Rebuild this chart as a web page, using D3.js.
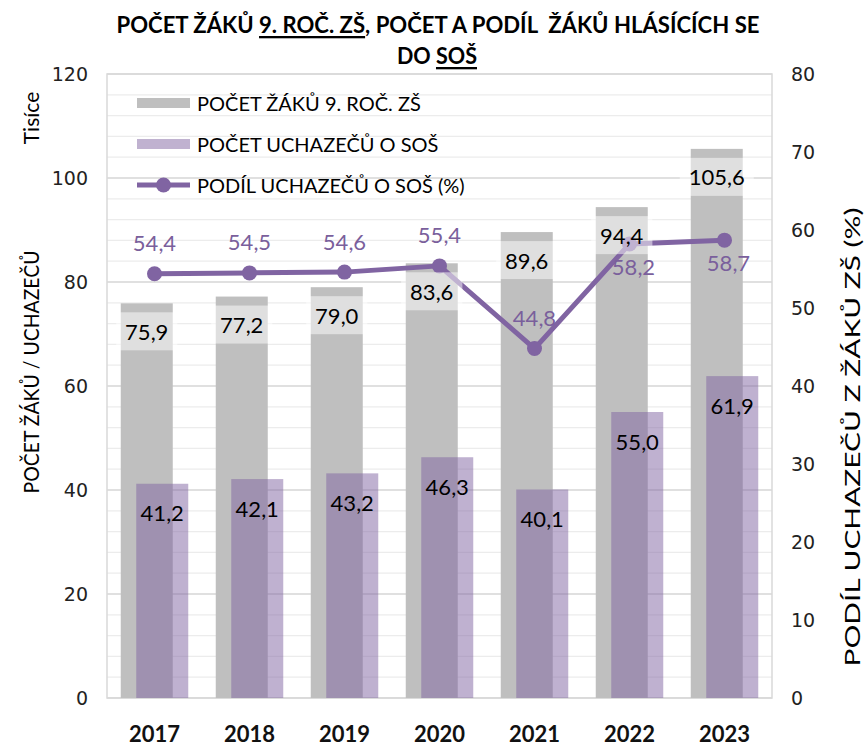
<!DOCTYPE html>
<html>
<head>
<meta charset="utf-8">
<script src="https://cdn.jsdelivr.net/npm/d3@7"></script>
<style>
  body { margin: 0; background: #fff; }
  text { font-family: Lato, "Open Sans", sans-serif; }
</style>
</head>
<body>
<svg id="chart" width="865" height="747"></svg>
<script>
// data (thousands of pupils / %)
const years = ["2017", "2018", "2019", "2020", "2021", "2022", "2023"];
const pupils = [75.9, 77.2, 79.0, 83.6, 89.6, 94.4, 105.6];
const applicants = [41.2, 42.1, 43.2, 46.3, 40.1, 55.0, 61.9];
const share = [54.4, 54.5, 54.6, 55.4, 44.8, 58.2, 58.7];
const leftTicks = [0, 20, 40, 60, 80, 100, 120];
const rightTicks = [0, 10, 20, 30, 40, 50, 60, 70, 80];
const shareLabelSide = ["above", "above", "above", "above", "above", "below", "below"];

const purple = "#8064a2";
const fmt = v => v.toFixed(1).replace(".", ",");

const svg = d3.select("#chart");
const plot = {left: 107, right: 772, top: 74, bottom: 698};

const x = d3.scaleBand().domain(years).range([plot.left, plot.right]);
const yL = d3.scaleLinear().domain([0, 120]).range([plot.bottom, plot.top]);
const yR = d3.scaleLinear().domain([0, 80]).range([plot.bottom, plot.top]);
const barW = 52, shift = 7.75;
const cx = d => x(d) + x.bandwidth() / 2;

// grid
const grid = svg.append("g");
grid.selectAll("line.minor").data(d3.range(0, 121, 4).filter(v => v % 20 != 0)).join("line")
  .attr("x1", plot.left).attr("x2", plot.right)
  .attr("y1", d => yL(d)).attr("y2", d => yL(d))
  .attr("stroke", "#ececec").attr("stroke-width", 1.3);
grid.selectAll("line.major").data(leftTicks).join("line")
  .attr("x1", plot.left).attr("x2", plot.right)
  .attr("y1", d => yL(d)).attr("y2", d => yL(d))
  .attr("stroke", "#d6d6d6").attr("stroke-width", 1.3);
svg.append("rect").attr("x", plot.left).attr("y", plot.top)
  .attr("width", plot.right - plot.left).attr("height", plot.bottom - plot.top)
  .attr("fill", "none").attr("stroke", "#d9d9d9").attr("stroke-width", 1.5);

// bars
svg.append("g").selectAll("rect").data(years).join("rect")
  .attr("x", (d) => cx(d) - shift - barW / 2).attr("width", barW)
  .attr("y", (d, i) => yL(pupils[i])).attr("height", (d, i) => yL(0) - yL(pupils[i]))
  .attr("fill", "#bfbfbf");
svg.append("g").selectAll("rect").data(years).join("rect")
  .attr("x", (d) => cx(d) + shift - barW / 2).attr("width", barW)
  .attr("y", (d, i) => yL(applicants[i])).attr("height", (d, i) => yL(0) - yL(applicants[i]))
  .attr("fill", purple).attr("fill-opacity", 0.5);

svg.append("g").selectAll("text").data(years).join("text")
  .attr("x", d => cx(d) + shift).attr("y", (d, i) => yL(applicants[i]) + 29)
  .attr("text-anchor", "middle").attr("dominant-baseline", "central")
  .attr("font-size", 22).attr("fill", "#000")
  .text((d, i) => fmt(applicants[i]));

// share line
const line = d3.line().x((d, i) => cx(years[i])).y(d => yR(d));
svg.append("path").datum(share).attr("d", line)
  .attr("fill", "none").attr("stroke", purple).attr("stroke-width", 5).attr("stroke-linejoin", "round");
svg.append("g").selectAll("circle").data(share).join("circle")
  .attr("cx", (d, i) => cx(years[i])).attr("cy", d => yR(d)).attr("r", 7.5)
  .attr("fill", purple);
svg.append("g").selectAll("text").data(share).join("text")
  .attr("x", (d, i) => cx(years[i]) + (shareLabelSide[i] == "below" ? 4 : 0))
  .attr("y", (d, i) => yR(d) + (shareLabelSide[i] == "below" ? 22 : -31))
  .attr("text-anchor", "middle").attr("dominant-baseline", "central")
  .attr("font-size", 22).attr("fill", "#7a5f9c")
  .text(d => fmt(d));

// pupil labels with half transparent box
const pl = svg.append("g").selectAll("g").data(years).join("g")
  .attr("transform", (d, i) => `translate(${cx(d) - shift},${yL(pupils[i]) + 28})`);
pl.append("text")
  .attr("text-anchor", "middle").attr("dominant-baseline", "central")
  .attr("font-size", 22).attr("fill", "#000")
  .text((d, i) => fmt(pupils[i]));
pl.each(function() {
  const g = d3.select(this);
  const w = g.select("text").node().getComputedTextLength();
  g.insert("rect", "text").attr("x", -w / 2 - 9).attr("y", -19).attr("width", w + 18).attr("height", 38)
    .attr("fill", "#fff").attr("fill-opacity", 0.5);
});

// axes labels
svg.append("g").selectAll("text").data(leftTicks).join("text")
  .attr("x", 88).attr("y", d => yL(d)).attr("text-anchor", "end").attr("dominant-baseline", "central")
  .style("font-family", "'DejaVu Sans', Verdana, sans-serif").attr("font-size", 19).attr("fill", "#222")
  .text(d => d);
svg.append("g").selectAll("text").data(rightTicks).join("text")
  .attr("x", 791).attr("y", d => yR(d)).attr("text-anchor", "start").attr("dominant-baseline", "central")
  .style("font-family", "'DejaVu Sans', Verdana, sans-serif").attr("font-size", 19).attr("fill", "#222")
  .text(d => d);
svg.append("g").selectAll("text").data(years).join("text")
  .attr("x", d => cx(d)).attr("y", 733).attr("text-anchor", "middle").attr("dominant-baseline", "central")
  .attr("font-size", 22).attr("font-weight", "bold").attr("fill", "#111")
  .text(d => d);

svg.append("text").attr("transform", "translate(30,118) rotate(-90)")
  .attr("text-anchor", "middle").attr("dominant-baseline", "central")
  .attr("font-size", 21).text("Tisíce");
svg.append("text").attr("transform", "translate(30,372) rotate(-90)")
  .attr("text-anchor", "middle").attr("dominant-baseline", "central")
  .attr("font-size", 21).attr("textLength", 243).attr("lengthAdjust", "spacingAndGlyphs")
  .text("POČET ŽÁKŮ / UCHAZEČŮ");
svg.append("text").attr("transform", "translate(851,437) rotate(-90)")
  .attr("text-anchor", "middle").attr("dominant-baseline", "central")
  .attr("font-size", 22).attr("textLength", 459).attr("lengthAdjust", "spacingAndGlyphs")
  .text("PODÍL UCHAZEČŮ Z ŽÁKŮ ZŠ (%)");

// title
const t1 = svg.append("text").attr("x", 438).attr("y", 24).attr("text-anchor", "middle")
  .attr("dominant-baseline", "central").attr("font-size", 23).attr("font-weight", "bold")
  .attr("textLength", 643).attr("lengthAdjust", "spacingAndGlyphs").attr("xml:space", "preserve");
t1.append("tspan").text("POČET ŽÁKŮ ");
t1.append("tspan").style("text-decoration", "underline").text("9. ROČ. ZŠ");
t1.append("tspan").text(", POČET A PODÍL  ŽÁKŮ HLÁSÍCÍCH SE");
const t2 = svg.append("text").attr("x", 437).attr("y", 55).attr("text-anchor", "middle")
  .attr("dominant-baseline", "central").attr("font-size", 23).attr("font-weight", "bold")
  .attr("textLength", 80).attr("lengthAdjust", "spacingAndGlyphs");
t2.append("tspan").text("DO ");
t2.append("tspan").style("text-decoration", "underline").text("SOŠ");

// legend
const legend = svg.append("g").attr("transform", "translate(137,0)");
const rows = [
  {label: "POČET ŽÁKŮ 9. ROČ. ZŠ", y: 103, type: "bar", fill: "#bfbfbf"},
  {label: "POČET UCHAZEČŮ O SOŠ", y: 144, type: "bar", fill: "#c0b2d0"},
  {label: "PODÍL UCHAZEČŮ O SOŠ (%)", y: 185, type: "line"}
];
rows.forEach(r => {
  if (r.type == "bar") {
    legend.append("rect").attr("x", 0).attr("y", r.y - 5).attr("width", 53).attr("height", 10).attr("fill", r.fill);
  } else {
    legend.append("line").attr("x1", 0).attr("x2", 53).attr("y1", r.y).attr("y2", r.y)
      .attr("stroke", purple).attr("stroke-width", 5);
    legend.append("circle").attr("cx", 26.5).attr("cy", r.y).attr("r", 7.5).attr("fill", purple);
  }
  legend.append("text").attr("x", 60).attr("y", r.y).attr("dominant-baseline", "central")
    .attr("font-size", 20).text(r.label);
});
</script>
</body>
</html>
